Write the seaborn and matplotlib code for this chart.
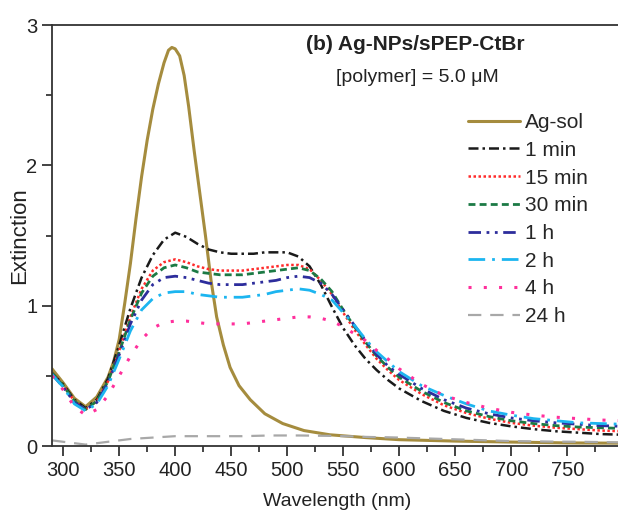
import seaborn as sns
import matplotlib.pyplot as plt
import pandas as pd

# Ag-sol reference spectrum (own wavelength grid, finer around the plasmon peak)
ag_wl = [290, 300, 310, 320, 330, 340, 345, 350, 355, 360, 365, 370, 375, 380, 385, 390,
         394, 397, 400, 404, 408, 412, 417, 422, 427, 432, 437, 443, 449, 457, 467, 480,
         496, 515, 538, 570, 600, 650, 700, 750, 800]
ag_sol = [0.55, 0.45, 0.34, 0.28, 0.35, 0.49, 0.60, 0.76, 1.02, 1.30, 1.62, 1.92, 2.18,
          2.40, 2.58, 2.73, 2.82, 2.84, 2.83, 2.78, 2.64, 2.42, 2.10, 1.80, 1.50, 1.18,
          0.92, 0.72, 0.56, 0.43, 0.33, 0.23, 0.16, 0.11, 0.08, 0.06, 0.045, 0.035, 0.028,
          0.022, 0.02]

wl = [290, 300, 310, 320, 330, 340, 350, 360, 370, 380, 390, 400, 410, 420, 430, 440, 450,
      460, 470, 480, 490, 500, 510, 520, 530, 540, 550, 560, 570, 580, 590, 600, 620, 640,
      660, 680, 700, 720, 740, 760, 780, 800]

min1 = [0.52, 0.44, 0.33, 0.27, 0.33, 0.48, 0.72, 0.98, 1.20, 1.36, 1.47, 1.52, 1.49, 1.44,
        1.40, 1.38, 1.37, 1.37, 1.37, 1.38, 1.38, 1.38, 1.35, 1.28, 1.15, 0.99, 0.84, 0.72,
        0.62, 0.54, 0.47, 0.41, 0.32, 0.25, 0.20, 0.165, 0.14, 0.12, 0.105, 0.095, 0.085, 0.08]
min15 = [0.52, 0.43, 0.32, 0.26, 0.32, 0.46, 0.68, 0.92, 1.12, 1.25, 1.31, 1.33, 1.31, 1.28,
         1.26, 1.25, 1.25, 1.25, 1.26, 1.27, 1.28, 1.29, 1.29, 1.26, 1.18, 1.08, 0.95, 0.83,
         0.72, 0.62, 0.54, 0.47, 0.37, 0.29, 0.235, 0.195, 0.165, 0.145, 0.13, 0.12, 0.11, 0.105]
min30 = [0.52, 0.43, 0.32, 0.26, 0.32, 0.46, 0.67, 0.90, 1.09, 1.21, 1.27, 1.29, 1.27, 1.24,
         1.23, 1.22, 1.22, 1.22, 1.23, 1.24, 1.25, 1.26, 1.27, 1.25, 1.19, 1.10, 0.97, 0.85,
         0.74, 0.64, 0.56, 0.49, 0.39, 0.31, 0.25, 0.21, 0.18, 0.16, 0.145, 0.135, 0.13, 0.125]
h1 = [0.51, 0.42, 0.31, 0.26, 0.31, 0.45, 0.65, 0.87, 1.04, 1.15, 1.20, 1.21, 1.20, 1.18,
      1.16, 1.15, 1.15, 1.15, 1.16, 1.17, 1.18, 1.20, 1.21, 1.20, 1.16, 1.08, 0.97, 0.86,
      0.75, 0.65, 0.57, 0.51, 0.41, 0.33, 0.27, 0.23, 0.20, 0.18, 0.165, 0.155, 0.145, 0.14]
h2 = [0.51, 0.42, 0.30, 0.25, 0.30, 0.43, 0.62, 0.82, 0.97, 1.05, 1.09, 1.10, 1.10, 1.08,
      1.07, 1.06, 1.06, 1.06, 1.07, 1.08, 1.10, 1.11, 1.12, 1.11, 1.08, 1.04, 0.95, 0.86,
      0.76, 0.67, 0.60, 0.53, 0.43, 0.36, 0.30, 0.25, 0.22, 0.195, 0.18, 0.165, 0.16, 0.155]
h4 = [0.50, 0.40, 0.28, 0.22, 0.26, 0.36, 0.50, 0.64, 0.76, 0.84, 0.88, 0.89, 0.89, 0.88,
      0.87, 0.87, 0.87, 0.87, 0.88, 0.89, 0.90, 0.91, 0.92, 0.92, 0.91, 0.89, 0.85, 0.80,
      0.75, 0.68, 0.62, 0.55, 0.44, 0.36, 0.31, 0.27, 0.24, 0.22, 0.205, 0.195, 0.185, 0.18]
h24 = [0.04, 0.03, 0.02, 0.01, 0.02, 0.03, 0.04, 0.05, 0.055, 0.06, 0.065, 0.07, 0.07, 0.07,
       0.07, 0.07, 0.07, 0.07, 0.072, 0.074, 0.075, 0.075, 0.075, 0.074, 0.073, 0.072, 0.07,
       0.068, 0.065, 0.063, 0.062, 0.06, 0.055, 0.05, 0.045, 0.04, 0.035, 0.033, 0.031, 0.03,
       0.028, 0.025]

series = [
    ("Ag-sol", ag_wl, ag_sol, "#a58c3e", (None, None), 2.2),
    ("1 min", wl, min1, "#1a1a1a", (4, 1.6, 1, 1.6), 1.8),
    ("15 min", wl, min15, "#ff2b2b", (1, 1), 1.8),
    ("30 min", wl, min30, "#1c7a45", (2.5, 1.5), 2.0),
    ("1 h", wl, h1, "#2d2d9c", (4.5, 2, 1, 2, 1, 2), 2.0),
    ("2 h", wl, h2, "#1cb5f0", (6, 2.5, 1, 2.5), 2.0),
    ("4 h", wl, h4, "#ff2f9c", (1, 4), 2.2),
    ("24 h", wl, h24, "#a8a8a8", (6, 4), 1.6),
]

sns.set_style("ticks")
plt.rcParams["font.family"] = ["Liberation Sans", "DejaVu Sans"]

fig = plt.figure(figsize=(6.18, 5.17), dpi=100)
ax = fig.add_axes([52 / 618, 71 / 517, 571.2 / 618, 421 / 517])

for name, x, y, color, dash, lw in series:
    df = pd.DataFrame({"Wavelength": x, "Extinction": y})
    sns.lineplot(data=df, x="Wavelength", y="Extinction", ax=ax, color=color,
                 linewidth=lw, label=name)
    if dash[0] is not None:
        ax.lines[-1].set_dashes(dash)

ax.set_xlim(290, 800)
ax.set_ylim(0, 3)
ax.set_xticks([300, 350, 400, 450, 500, 550, 600, 650, 700, 750])
ax.set_xticks(range(325, 800, 50), minor=True)
ax.set_yticks([0, 1, 2, 3])
ax.set_yticks([0.5, 1.5, 2.5], minor=True)
ax.tick_params(axis="both", which="major", direction="out", length=7, width=1.2,
               labelsize=14.5, colors="#222222")
ax.tick_params(axis="both", which="minor", direction="out", length=4, width=1.2)
for s in ax.spines.values():
    s.set_linewidth(1.3)
    s.set_color("#333333")
ax.set_xlabel("Wavelength (nm)", fontsize=14, color="#222222", labelpad=10)
ax.set_ylabel("Extinction", fontsize=16, color="#222222")
ax.yaxis.set_label_coords(-22 / 571.2, 0.5)

ax.legend(loc="upper left", bbox_to_anchor=(468 / 618, 1 - 113 / 517),
          bbox_transform=fig.transFigure, frameon=False, fontsize=15,
          handlelength=2.5, handletextpad=0.25, labelspacing=0.42, borderpad=0,
          borderaxespad=0)

fig.text(415 / 618, 1 - 45 / 517, "(b) Ag-NPs/sPEP-CtBr", ha="center", va="center",
         fontsize=15, fontweight="bold", color="#222222")
fig.text(417 / 618, 1 - 77 / 517, "[polymer] = 5.0 \u03bcM", ha="center", va="center",
         fontsize=14, color="#222222")

fig.savefig("out.png", dpi=100)
